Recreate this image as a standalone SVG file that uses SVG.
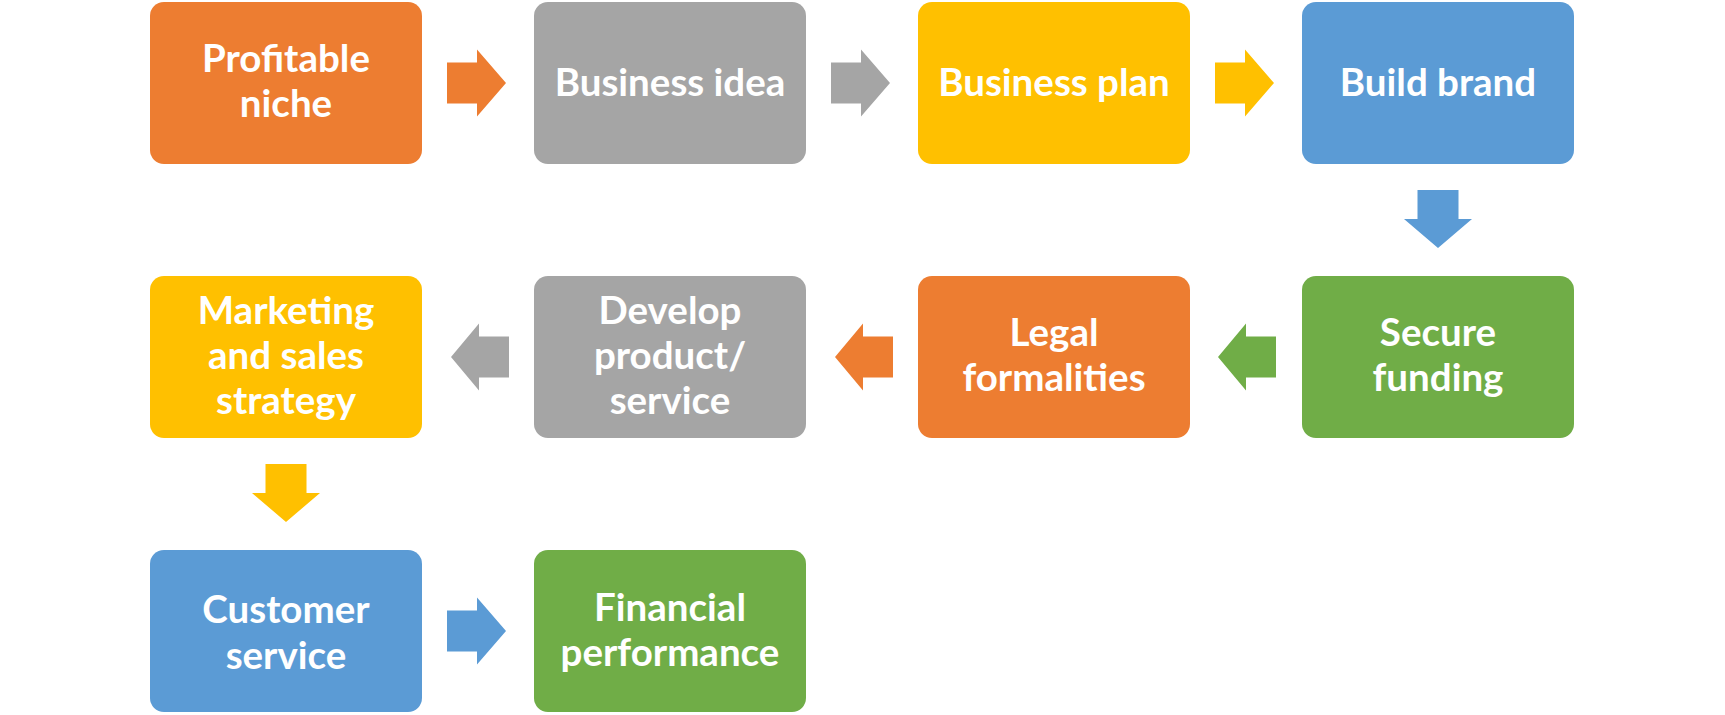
<svg xmlns="http://www.w3.org/2000/svg" width="1725" height="715" viewBox="0 0 1725 715">
<style>
.lbl{font-family:Lato,"Open Sans","Liberation Sans",sans-serif;font-weight:700;font-size:38.5px;fill:#fff;text-anchor:middle}
.or{fill:#ED7D31}.gr{fill:#A5A5A5}.ye{fill:#FFC000}.bl{fill:#5B9BD5}.gn{fill:#70AD47}
</style>
<defs>
<path id="ar" d="M0,-20.5 H30 V-33.5 L59,0 L30,33.5 V20.5 H0 Z"/>
<path id="al" d="M0,0 L28,-33.5 V-20.5 H58 V20.5 H28 V33.5 Z"/>
<path id="ad" d="M-20.5,0 H20.5 V29 H34 L0,58 L-34,29 H-20.5 Z"/>
</defs>
<rect width="1725" height="715" fill="#fff"/>
<g id="connectors">
<use href="#ar" x="447" y="83" class="or"/>
<use href="#ar" x="831" y="83" class="gr"/>
<use href="#ar" x="1215" y="83" class="ye"/>
<use href="#ad" x="1438" y="190" class="bl"/>
<use href="#al" x="1218" y="357" class="gn"/>
<use href="#al" x="835" y="357" class="or"/>
<use href="#al" x="451" y="357" class="gr"/>
<use href="#ad" x="286" y="464" class="ye"/>
<use href="#ar" x="447" y="631" class="bl"/>
</g>
<g id="n1"><rect x="150" y="2" width="272" height="162" rx="14" class="or"/><text class="lbl" x="286" y="72">Profitable</text><text class="lbl" x="286" y="117">niche</text></g>
<g id="n2"><rect x="534" y="2" width="272" height="162" rx="14" class="gr"/><text class="lbl" x="670" y="96">Business idea</text></g>
<g id="n3"><rect x="918" y="2" width="272" height="162" rx="14" class="ye"/><text class="lbl" x="1054" y="96">Business plan</text></g>
<g id="n4"><rect x="1302" y="2" width="272" height="162" rx="14" class="bl"/><text class="lbl" x="1438" y="96">Build brand</text></g>
<g id="n5"><rect x="1302" y="276" width="272" height="162" rx="14" class="gn"/><text class="lbl" x="1438" y="346">Secure</text><text class="lbl" x="1438" y="391">funding</text></g>
<g id="n6"><rect x="918" y="276" width="272" height="162" rx="14" class="or"/><text class="lbl" x="1054" y="346">Legal</text><text class="lbl" x="1054" y="391">formalities</text></g>
<g id="n7"><rect x="534" y="276" width="272" height="162" rx="14" class="gr"/><text class="lbl" x="670" y="324">Develop</text><text class="lbl" x="670" y="369">product/</text><text class="lbl" x="670" y="414">service</text></g>
<g id="n8"><rect x="150" y="276" width="272" height="162" rx="14" class="ye"/><text class="lbl" x="286" y="324">Marketing</text><text class="lbl" x="286" y="369">and sales</text><text class="lbl" x="286" y="414">strategy</text></g>
<g id="n9"><rect x="150" y="550" width="272" height="162" rx="14" class="bl"/><text class="lbl" x="286" y="623">Customer</text><text class="lbl" x="286" y="669">service</text></g>
<g id="n10"><rect x="534" y="550" width="272" height="162" rx="14" class="gn"/><text class="lbl" x="670" y="621">Financial</text><text class="lbl" x="670" y="666">performance</text></g>
</svg>
